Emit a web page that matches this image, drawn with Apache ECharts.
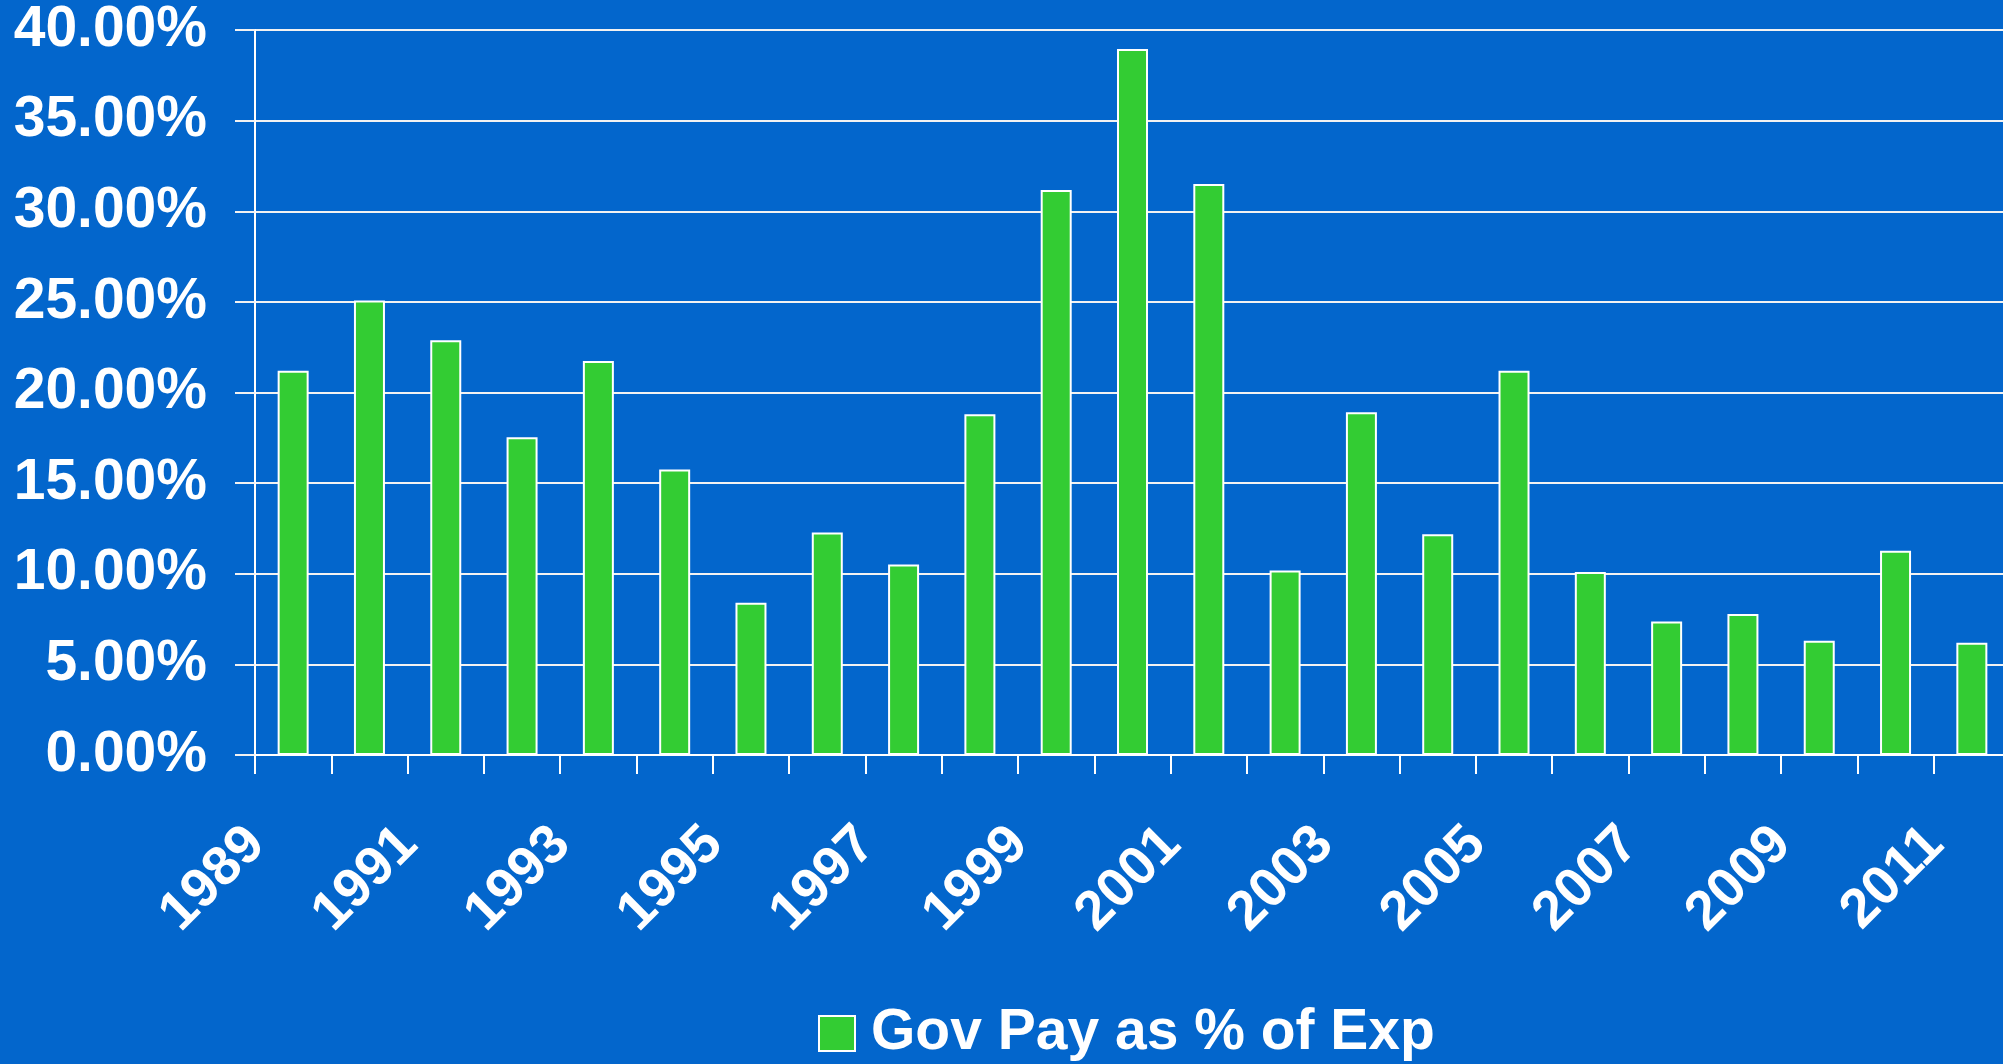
<!DOCTYPE html>
<html>
<head>
<meta charset="utf-8">
<title>Gov Pay as % of Exp</title>
<script src="https://cdn.jsdelivr.net/npm/echarts@6/dist/echarts.min.js"></script>
<style>
  html, body {
    margin: 0;
    padding: 0;
    background: #0366cc;
    overflow: hidden;
  }
  /* a bit wider than the window: the last category is cut off at the right edge */
  #main {
    width: 2020px;
    height: 1064px;
  }
</style>
</head>
<body>
<div id="main"></div>
<script>
// X轴文本
let year_data = [
  '1989', '1990', '1991', '1992', '1993', '1994', '1995', '1996',
  '1997', '1998', '1999', '2000', '2001', '2002', '2003', '2004',
  '2005', '2006', '2007', '2008', '2009', '2010', '2011'
]
// 数据 (percent)
let gov_pay_data = [
  21.2, 25.07, 22.88, 17.53, 21.74, 15.75, 8.4, 12.28,
  10.51, 18.8, 31.17, 38.95, 31.5, 10.18, 18.91, 12.18,
  21.2, 10.09, 7.36, 7.78, 6.31, 11.27, 6.2
]
let series_name = 'Gov Pay as % of Exp'
// y axis ticks
let y_min = 0
let y_max = 40
let y_step = 5

let font_family = 'Arial, "Liberation Sans", sans-serif'

let myChart = echarts.init(document.getElementById('main'))

let option = {
  backgroundColor: '#0366cc',
  animation: false,
  grid: {
    left: 255,
    top: 30,
    right: 10,
    bottom: 309,
    containLabel: false
  },
  legend: {
    data: [series_name],
    left: 813,
    top: 1000,
    icon: 'rect',
    itemWidth: 36,
    itemHeight: 35,
    itemStyle: {
      borderColor: '#ffffff',
      borderWidth: 2
    },
    textStyle: {
      color: '#ffffff',
      fontSize: 57,
      fontWeight: 'bold',
      fontFamily: font_family,
      padding: [0, 0, 0, 11]
    }
  },
  xAxis: {
    type: 'category',
    data: year_data,
    boundaryGap: true,
    axisLine: {
      show: true,
      lineStyle: {
        color: '#ffffff',
        width: 2
      }
    },
    axisTick: {
      show: true,
      interval: 0,
      length: 19,
      lineStyle: {
        color: '#ffffff',
        width: 2
      }
    },
    axisLabel: {
      interval: 1,
      rotate: 45,
      margin: 44,
      padding: [0, 52, 0, 0],
      color: '#ffffff',
      fontSize: 55,
      fontWeight: 'bold',
      fontFamily: font_family
    },
    splitLine: {
      show: false
    }
  },
  yAxis: {
    type: 'value',
    min: y_min,
    max: y_max,
    interval: y_step,
    axisLine: {
      show: true,
      lineStyle: {
        color: '#ffffff',
        width: 2
      }
    },
    axisTick: {
      show: true,
      length: 20,
      lineStyle: {
        color: '#f2f2f2',
        width: 2
      }
    },
    axisLabel: {
      margin: 48,
      color: '#ffffff',
      fontSize: 57,
      fontWeight: 'bold',
      fontFamily: font_family,
      formatter: function(value) {
        return value.toFixed(2) + '%'
      }
    },
    //网格样式
    splitLine: {
      show: true,
      lineStyle: {
        color: '#f2f2f2',
        width: 2
      }
    }
  },
  series: [
    {
      name: series_name,
      type: 'bar',
      data: gov_pay_data,
      barWidth: 31,
      itemStyle: {
        color: '#33cc33',
        borderColor: '#ffffff',
        borderWidth: 2
      }
    }
  ]
}

myChart.setOption(option)
</script>
</body>
</html>
